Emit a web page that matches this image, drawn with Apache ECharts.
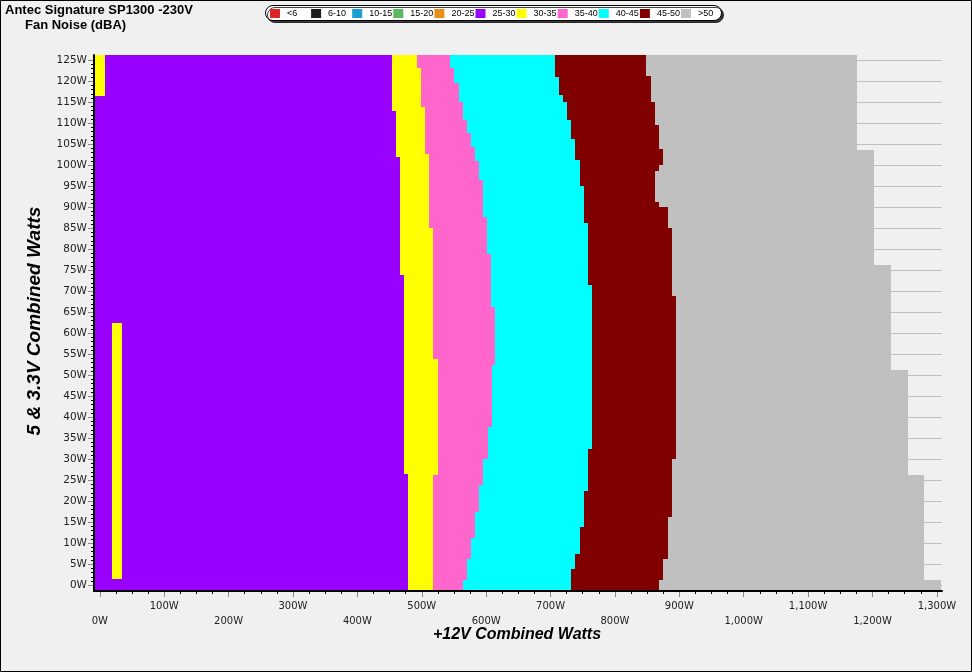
<!DOCTYPE html>
<html><head><meta charset="utf-8">
<script src="https://cdn.jsdelivr.net/npm/echarts@6/dist/echarts.min.js"></script>
<style>html,body{margin:0;padding:0;background:#f0f0f0}#c{width:972px;height:672px}</style>
</head><body><div id="c"></div>
<script>
// axis extents (W)
const X_MIN = -9, X_MAX = 1308;       // +12V combined
const Y_MIN = -1.35, Y_MAX = 126.25;  // 5 & 3.3V combined

const noiseBands = ['<6','6-10','10-15','15-20','20-25','25-30','30-35','35-40','40-45','45-50','>50'];
const bandColors = ['#dc2626','#1e1e1e','#1a9fd4','#5cb85c','#e8901c','#9900ff','#ffff00','#ff66cc','#00ffff','#800000','#c0c0c0'];

// Right edge (W, +12V) of each noise band; it changes at the listed 5&3.3V loads (descending)
const edge2530Y = [112.8, 102.0, 73.9, 26.5];
const edge2530X = [453.8, 460.0, 466.2, 472.4, 478.6];

const edge3035Y = [123.1, 113.8, 102.7, 85.0, 53.8, 26.3];
const edge3035X = [492.2, 498.4, 504.6, 510.8, 517.0, 525.2, 517.0];

const edge3540Y = [123.1, 119.5, 115.1, 110.8, 107.6, 104.4, 100.9, 96.5, 87.8, 78.9, 66.3, 52.5, 37.6, 30.0, 24.0, 17.5, 11.2, 6.2, 1.3];
const edge3540X = [543.9, 550.1, 557.4, 563.6, 569.8, 576.0, 582.2, 588.4, 594.7, 601.8, 608.0, 614.5, 609.1, 602.4, 595.1, 588.9, 582.7, 576.5, 570.3, 564.1];

const edge4045Y = [121.1, 116.7, 115.1, 110.8, 106.2, 101.3, 95.1, 86.2, 71.5, 32.5, 22.5, 14.0, 7.5, 3.8];
const edge4045X = [706.9, 713.1, 719.3, 725.5, 731.8, 738.0, 745.7, 751.9, 758.1, 764.4, 758.1, 751.9, 745.7, 738.5, 731.8];

const edge4550Y = [121.3, 115.1, 109.6, 103.9, 100.1, 98.7, 91.3, 90.1, 85.0, 68.9, 30.1, 16.3, 6.3, 1.3];
const edge4550X = [848.3, 856.1, 862.3, 868.5, 874.7, 868.5, 862.3, 868.5, 882.0, 888.2, 894.4, 888.2, 882.0, 874.7, 868.5];

const edge50Y = [103.6, 76.3, 51.3, 26.3, 1.3];
const edge50X = [1175.5, 1201.9, 1228.8, 1255.2, 1280.0, 1306.0];

// isolated 30-35 dBA patches inside the 25-30 region
const patchX0 = [X_MIN, 18.9];
const patchX1 = [8.1, 34.5];
const patchY0 = [116.4, 1.6];
const patchY1 = [Y_MAX, 62.45];

function steps(ys, xs) {
  const b = [Y_MAX].concat(ys, [Y_MIN]);
  return xs.map((x, i) => [X_MIN, x, b[i + 1], b[i]]);
}
const patches = patchX0.map((x, i) => [x, patchX1[i], patchY0[i], patchY1[i]]);

function renderRect(params, api) {
  const p0 = api.coord([api.value(0), api.value(3)]);
  const p1 = api.coord([api.value(1), api.value(2)]);
  const x0 = Math.round(p0[0]), x1 = Math.round(p1[0]);
  const y0 = Math.round(p0[1]), y1 = Math.round(p1[1]);
  return { type: 'rect', shape: { x: x0, y: y0, width: x1 - x0, height: y1 - y0 },
           style: { fill: api.visual('color') } };
}
function layer(name, data) {
  const c = bandColors[noiseBands.indexOf(name)];
  return { type: 'custom', name: name, xAxisIndex: 0, yAxisIndex: 0, renderItem: renderRect,
           encode: { x: [0, 1], y: [2, 3] }, data: data, itemStyle: { color: c },
           silent: true, animation: false, clip: true };
}
const series = [
  layer('<6', []), layer('6-10', []), layer('10-15', []), layer('15-20', []), layer('20-25', []),
  layer('>50', steps(edge50Y, edge50X)),
  layer('45-50', steps(edge4550Y, edge4550X)),
  layer('40-45', steps(edge4045Y, edge4045X)),
  layer('35-40', steps(edge3540Y, edge3540X)),
  layer('30-35', steps(edge3035Y, edge3035X)),
  layer('25-30', steps(edge2530Y, edge2530X)),
  layer('30-35', patches)
];

function fmtW(v) { return String(v).replace(/\B(?=(\d{3})+(?!\d))/g, ',') + 'W'; }
const FONT = 'DejaVu Sans';

// one legend entry per band, laid out on a fixed pitch inside a rounded box
const legends = noiseBands.map((n, i) => ({
  data: [n], left: 270 + i * 41.1, top: 9, orient: 'horizontal', icon: 'rect',
  itemWidth: 10, itemHeight: 9, padding: 0, selectedMode: false, z: 12,
  textStyle: { fontFamily: 'Liberation Sans', fontSize: 9, color: '#000', padding: [0, 0, 0, 2] }
}));

const chart = echarts.init(document.getElementById('c'), null, { renderer: 'canvas' });
chart.setOption({
  backgroundColor: '#f0f0f0',
  animation: false,
  title: [
    { text: 'Antec Signature SP1300 -230V', left: 5, top: 4, padding: 0,
      textStyle: { fontFamily: 'Liberation Sans', fontWeight: 'bold', fontSize: 13, color: '#000' } },
    { text: 'Fan Noise (dBA)', left: 25, top: 19, padding: 0,
      textStyle: { fontFamily: 'Liberation Sans', fontWeight: 'bold', fontSize: 13, color: '#000' } }
  ],
  legend: legends,
  grid: [
    { left: 94, right: 30, top: 55, bottom: 81 },
    { left: 94, right: 30, top: 60.3, bottom: 86.7 },
    { left: 99.8, right: 35.1, top: 55, bottom: 81 }
  ],
  xAxis: [
    { type: 'value', gridIndex: 0, min: X_MIN, max: X_MAX, z: 5,
      axisLine: { show: true, onZero: false, lineStyle: { color: '#000', width: 2 } },
      axisTick: { show: false }, axisLabel: { show: false }, splitLine: { show: false } },
    { type: 'value', gridIndex: 1, min: X_MIN, max: X_MAX, show: false },
    { type: 'value', gridIndex: 2, min: 0, max: 1300, interval: 100, position: 'bottom',
      axisLine: { show: false, onZero: false },
      axisTick: { show: true, length: 6, lineStyle: { color: '#888' } },
      minorTick: { show: true, splitNumber: 4, length: 3, lineStyle: { color: '#000' } },
      splitLine: { show: false },
      axisLabel: { margin: 8, fontFamily: FONT, fontSize: 10, color: '#222', lineHeight: 15,
        formatter: v => ((v / 100) % 2 === 0 ? '\n' : '') + fmtW(v) } }
  ],
  yAxis: [
    { type: 'value', gridIndex: 0, min: Y_MIN, max: Y_MAX, z: 5,
      axisLine: { show: true, onZero: false, lineStyle: { color: '#000', width: 2 } },
      axisTick: { show: false }, axisLabel: { show: false }, splitLine: { show: false } },
    { type: 'value', gridIndex: 1, min: 0, max: 125, interval: 5,
      axisLine: { show: false, onZero: false },
      axisTick: { show: true, length: 6, lineStyle: { color: '#888' } },
      minorTick: { show: true, splitNumber: 5, length: 3, lineStyle: { color: '#000' } },
      splitLine: { show: true, lineStyle: { color: '#c0c0c0', width: 1 } },
      axisLabel: { margin: 7, fontFamily: FONT, fontSize: 10.5, color: '#222', formatter: v => fmtW(v) } },
    { type: 'value', gridIndex: 2, min: Y_MIN, max: Y_MAX, show: false }
  ],
  graphic: [
    { type: 'rect', shape: { x: 265.5, y: 5.5, width: 456, height: 15, r: 7.5 },
      style: { fill: '#fff', stroke: '#000', lineWidth: 1,
               shadowColor: 'rgba(0,0,0,0.75)', shadowOffsetX: 2, shadowOffsetY: 2, shadowBlur: 0 },
      z: 11, silent: true },
    { type: 'text', x: 517, y: 627, style: { text: '+12V Combined Watts',
      font: 'italic bold 16px "Liberation Sans"', fill: '#000', align: 'center', verticalAlign: 'top' }, z: 10 },
    { type: 'text', x: 35, y: 321, rotation: Math.PI / 2,
      style: { text: '5 & 3.3V Combined Watts', font: 'italic bold 19px "Liberation Sans"', fill: '#000',
               align: 'center', verticalAlign: 'middle' }, z: 10 },
    { type: 'rect', shape: { x: 0.5, y: 0.5, width: 971, height: 671 },
      style: { fill: 'none', stroke: '#000', lineWidth: 1 }, z: 20, silent: true }
  ],
  series: series
});
</script></body></html>
